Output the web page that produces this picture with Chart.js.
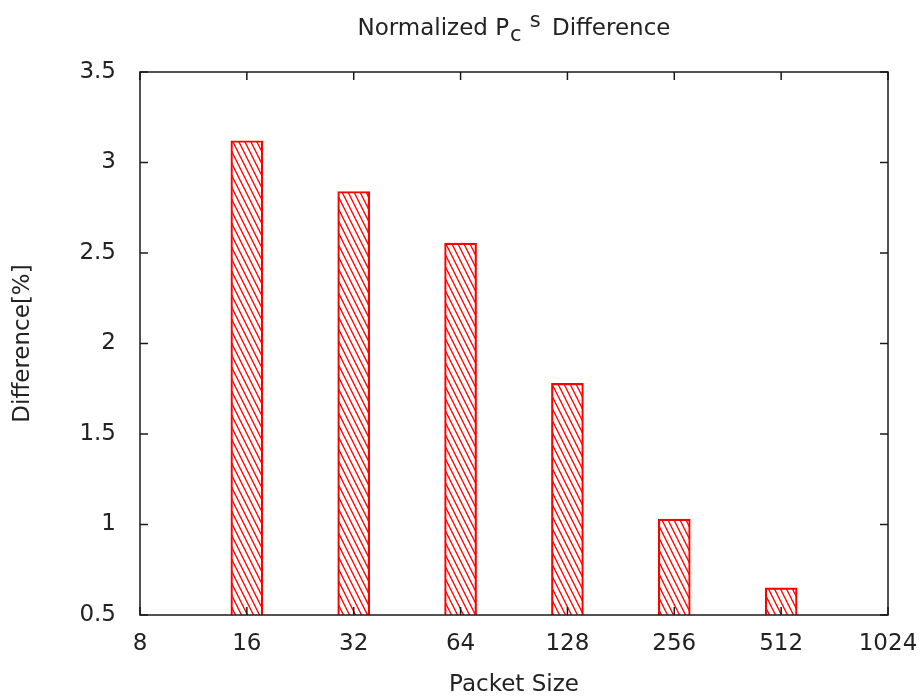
<!DOCTYPE html>
<html>
<head>
<meta charset="utf-8">
<script src="https://cdn.jsdelivr.net/npm/chart.js@4.4.1/dist/chart.umd.min.js"></script>
<style>
  html, body { margin: 0; padding: 0; background: #fff; }
  #grafico { display: block; }
</style>
</head>
<body>
<canvas id="grafico" width="920" height="696"></canvas>
<script>
// datos
const tamanos = ['8', '16', '32', '64', '128', '256', '512', '1024'];
const diferencias = [null, 3.12, 2.84, 2.555, 1.78, 1.03, 0.65, null];
const ticksY = [0.5, 1, 1.5, 2, 2.5, 3, 3.5];

const FUENTE = '"DejaVu Sans", Verdana, sans-serif';
const TEXTO = '#222';
const TAM = 23;

// trama diagonal tipo gnuplot
function crearTrama() {
    const c = document.createElement('canvas');
    c.width = 6;
    c.height = 12;
    const g = c.getContext('2d');
    g.strokeStyle = '#ff0000';
    g.lineWidth = 1.3;
    g.beginPath();
    g.moveTo(-6, -12); g.lineTo(12, 24);
    g.moveTo(-12, -12); g.lineTo(6, 24);
    g.moveTo(0, -12); g.lineTo(18, 24);
    g.stroke();
    return g.createPattern(c, 'repeat');
}

// marco y marcas hacia dentro
const marco = {
    id: 'marco',
    afterDatasetsDraw(chart) {
        const { ctx, chartArea: a, scales } = chart;
        ctx.save();
        ctx.strokeStyle = '#1a1a1a';
        ctx.lineWidth = 1.5;
        ctx.strokeRect(a.left, a.top, a.right - a.left, a.bottom - a.top);
        ctx.beginPath();
        ticksY.forEach(v => {
            const y = scales.y.getPixelForValue(v);
            ctx.moveTo(a.left, y); ctx.lineTo(a.left + 8, y);
            ctx.moveTo(a.right, y); ctx.lineTo(a.right - 8, y);
        });
        tamanos.forEach((t, i) => {
            const x = scales.x.getPixelForValue(i);
            ctx.moveTo(x, a.bottom); ctx.lineTo(x, a.bottom - 8);
            ctx.moveTo(x, a.top); ctx.lineTo(x, a.top + 8);
        });
        ctx.stroke();
        ctx.restore();
    },
    afterDraw(chart) {
        // título con subíndice y superíndice
        const { ctx, chartArea: a } = chart;
        const partes = [
            { t: 'Normalized P', f: TAM, dy: 0, gap: 1 },
            { t: 'c', f: TAM - 2, dy: 7, gap: 8 },
            { t: 's', f: TAM - 2, dy: -7, gap: 4 },
            { t: ' Difference', f: TAM, dy: 0, gap: 0 }
        ];
        ctx.save();
        ctx.fillStyle = TEXTO;
        ctx.textBaseline = 'middle';
        let total = 0;
        partes.forEach(p => {
            ctx.font = p.f + 'px ' + FUENTE;
            p.w = ctx.measureText(p.t).width;
            total += p.w + p.gap;
        });
        let x = (a.left + a.right) / 2 - total / 2;
        const y = 29;
        partes.forEach(p => {
            ctx.font = p.f + 'px ' + FUENTE;
            ctx.fillText(p.t, x, y + p.dy);
            x += p.w + p.gap;
        });
        ctx.restore();
    }
};

const ctx = document.getElementById('grafico');

new Chart(ctx, {
    type: 'bar',
    data: {
        labels: tamanos,
        datasets: [{
            data: diferencias,
            backgroundColor: crearTrama(),
            borderColor: '#ff0000',
            borderWidth: 1.5,
            borderSkipped: false,
            barThickness: 32
        }]
    },
    options: {
        responsive: false,
        animation: false,
        layout: { padding: { top: 72, right: 32, left: 0, bottom: 0 } },
        plugins: {
            legend: { display: false },
            tooltip: { enabled: false }
        },
        scales: {
            x: {
                offset: false,
                grid: { display: false, drawTicks: false },
                border: { display: false },
                ticks: {
                    color: TEXTO,
                    font: { family: FUENTE, size: TAM },
                    padding: 15,
                    maxRotation: 0,
                    autoSkip: false
                },
                title: {
                    display: true,
                    text: 'Packet Size',
                    color: TEXTO,
                    font: { family: FUENTE, size: TAM },
                    padding: { top: 6, bottom: -3 }
                },
                afterFit(scale) {
                    scale.height = 81;
                    scale.paddingLeft = 0;
                    scale.paddingRight = 0;
                }
            },
            y: {
                min: 0.5,
                max: 3.5,
                grid: { display: false, drawTicks: false },
                border: { display: false },
                afterBuildTicks(scale) {
                    scale.ticks = ticksY.map(v => ({ value: v }));
                },
                ticks: {
                    color: TEXTO,
                    font: { family: FUENTE, size: TAM },
                    padding: 24,
                    callback: v => String(v)
                },
                title: {
                    display: true,
                    text: 'Difference[%]',
                    color: TEXTO,
                    font: { family: FUENTE, size: TAM },
                    padding: { top: 9, bottom: 0 }
                },
                afterFit(scale) { scale.width = 140; }
            }
        }
    },
    plugins: [marco]
});
</script>
</body>
</html>
